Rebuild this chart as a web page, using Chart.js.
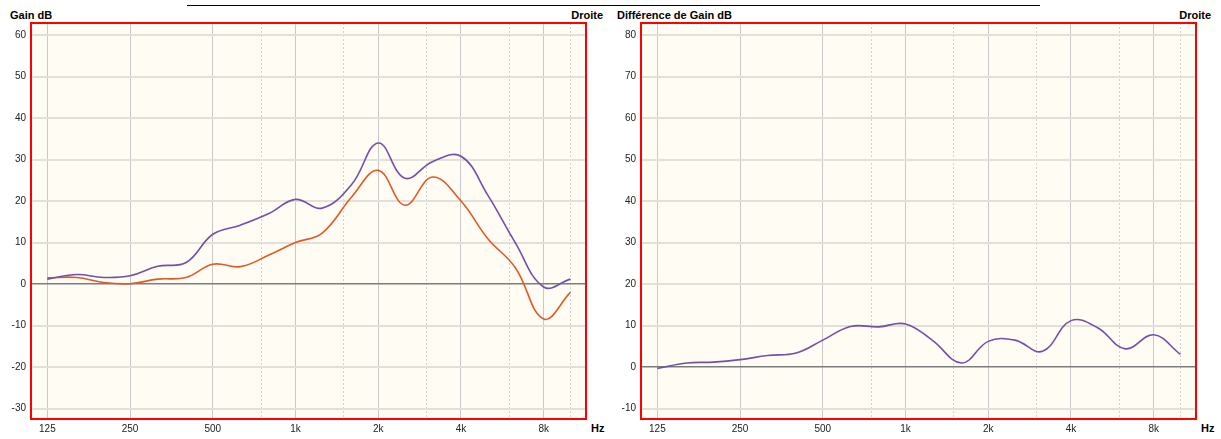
<!DOCTYPE html>
<html>
<head>
<meta charset="utf-8">
<script src="https://cdn.jsdelivr.net/npm/chart.js@4.4.1/dist/chart.umd.min.js"></script>
<style>
body{margin:0;background:#fff;width:1221px;height:439px;overflow:hidden;position:relative;font-family:'Liberation Sans',Arial,sans-serif;}
canvas{position:absolute;top:0;}
.lbl{position:absolute;font-weight:bold;font-size:11px;color:#000;line-height:12px;white-space:nowrap;}
.topline{position:absolute;left:187px;top:5px;width:853px;height:1px;background:#000;}
</style>
</head>
<body>
<div class="topline"></div>
<div class="lbl" style="left:10px;top:9px;">Gain dB</div>
<div class="lbl" style="right:618px;top:9px;">Droite</div>
<div class="lbl" style="left:617px;top:9px;">Différence de Gain dB</div>
<div class="lbl" style="right:10px;top:9px;">Droite</div>
<div class="lbl" style="left:591px;top:422px;">Hz</div>
<div class="lbl" style="left:1201px;top:422px;">Hz</div>
<canvas id="left" width="610" height="439" style="left:0px"></canvas>
<canvas id="right" width="610" height="439" style="left:610px"></canvas>
<script>
'use strict';

// frequencies (Hz)
const freqs = [125,160,200,250,315,400,500,630,800,1000,1250,1600,2000,2500,3150,4000,5000,6300,8000,10000];
// left chart: purple curve and orange curve (dB)
const gainPurple = [1.2,2.3,1.6,2.0,4.3,5.2,12,14.2,17,20.4,18.3,24,34,25.5,29.5,30.8,21.5,10,-0.7,1.2];
const gainOrange = [1.5,1.6,0.4,0.1,1.2,1.6,4.8,4.2,7,10,12.3,21,27.4,19,25.8,20,11,4,-8.4,-2];
// right chart: difference (dB)
const gainDiff = [-0.3,1.0,1.2,1.8,2.8,3.4,6.5,9.8,9.7,10.4,6.5,1.0,6.2,6.5,3.8,11.2,9.5,4.4,7.8,3.1];

const octTicks = [125,250,500,1000,2000,4000,8000];
const octLabels = ['125','250','500','1k','2k','4k','8k'];
const halfTicks = [750,1500,3000,6000,10000];
const yTicksGain = [-30,-20,-10,0,10,20,30,40,50,60];
const yTicksDiff = [-10,0,10,20,30,40,50,60,70,80];

const frame = {
    id: 'frame',
    beforeDraw(chart){
        const {ctx, chartArea:a} = chart;
        ctx.save();
        ctx.fillStyle = '#fffcf4';
        ctx.fillRect(a.left, a.top, a.right - a.left, a.bottom - a.top);
        ctx.restore();
    },
    afterDraw(chart){
        const {ctx, chartArea:a} = chart;
        ctx.save();
        ctx.strokeStyle = '#ff0000';
        ctx.lineWidth = 2;
        ctx.strokeRect(a.left, a.top, a.right - a.left, a.bottom - a.top);
        ctx.restore();
    }
};

function toPoints(values){
    return freqs.map((f, i) => ({x: f, y: values[i]}));
}

function makeChart(id, datasets, yMin, yMax, yTicks){
    const ctx = document.getElementById(id).getContext('2d');
    return new Chart(ctx, {
        type: 'line',
        data: {datasets: datasets},
        plugins: [frame],
        options: {
            responsive: false,
            animation: false,
            devicePixelRatio: 1,
            layout: {autoPadding: false, padding: {top: 23, right: 24, left: 0, bottom: 0}},
            plugins: {legend: {display: false}, tooltip: {enabled: false}},
            elements: {point: {radius: 0}, line: {tension: 0.4, borderWidth: 1.6}},
            scales: {
                x: {
                    type: 'logarithmic',
                    min: 109,
                    max: 11400,
                    afterFit: s => { s.height = 20; },
                    afterBuildTicks: s => { s.ticks = octTicks.map(v => ({value: v})); },
                    ticks: {
                        autoSkip: false, maxRotation: 0, padding: 4,
                        color: '#222', font: {family: 'Liberation Sans', size: 10},
                        callback: (v, i) => octLabels[i]
                    },
                    grid: {color: '#c8c8c8', lineWidth: 1, drawTicks: false},
                    border: {display: false}
                },
                x2: {
                    type: 'logarithmic',
                    position: 'bottom',
                    min: 109,
                    max: 11400,
                    afterFit: s => { s.height = 0; },
                    afterBuildTicks: s => { s.ticks = halfTicks.map(v => ({value: v})); },
                    ticks: {display: false},
                    grid: {color: '#d2d2d2', lineWidth: 1, drawTicks: false},
                    border: {display: false, dash: [2, 2]}
                },
                y: {
                    type: 'linear',
                    min: yMin,
                    max: yMax,
                    afterFit: s => { s.width = 31; },
                    afterBuildTicks: s => { s.ticks = yTicks.map(v => ({value: v})); },
                    ticks: {
                        padding: 5, color: '#222',
                        font: {family: 'Liberation Sans', size: 10}
                    },
                    grid: {
                        drawTicks: false,
                        color: c => (c.tick && c.tick.value === 0) ? '#7c7c7c' : '#e3e0da',
                        lineWidth: c => (c.tick && c.tick.value === 0) ? 1.5 : 2
                    },
                    border: {display: false}
                }
            }
        }
    });
}

makeChart('left', [
    {data: toPoints(gainPurple), borderColor: '#7350a8'},
    {data: toPoints(gainOrange), borderColor: '#e05a28'}
], -32.5, 62.9, yTicksGain);

makeChart('right', [
    {data: toPoints(gainDiff), borderColor: '#7350a8'}
], -12.5, 82.9, yTicksDiff);
</script>
</body>
</html>
